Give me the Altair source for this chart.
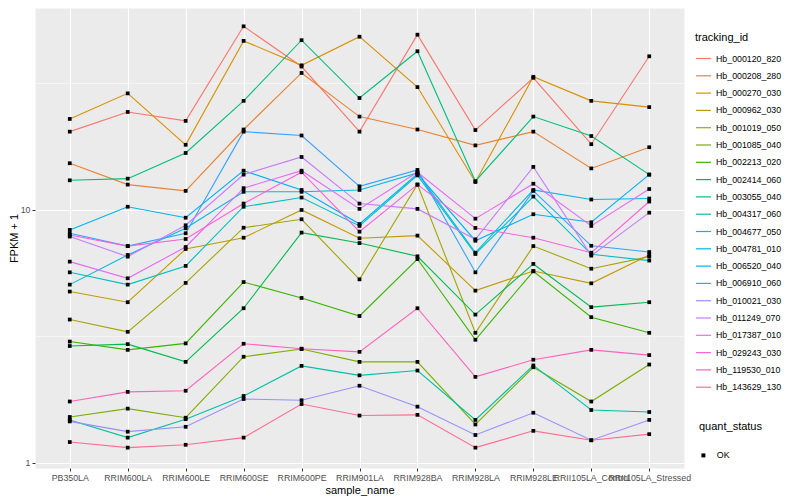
import altair as alt
import pandas as pd

samples = ["PB350LA", "RRIM600LA", "RRIM600LE", "RRIM600SE", "RRIM600PE", "RRIM901LA",
           "RRIM928BA", "RRIM928LA", "RRIM928LE", "RRII105LA_Control", "RRII105LA_Stressed"]

tracking_ids = ["Hb_000120_820", "Hb_000208_280", "Hb_000270_030", "Hb_000962_030",
                "Hb_001019_050", "Hb_001085_040", "Hb_002213_020", "Hb_002414_060",
                "Hb_003055_040", "Hb_004317_060", "Hb_004677_050", "Hb_004781_010",
                "Hb_006520_040", "Hb_006910_060", "Hb_010021_030", "Hb_011249_070",
                "Hb_017387_010", "Hb_029243_030", "Hb_119530_010", "Hb_143629_130"]

colors = ["#F8766D", "#EA8331", "#D89000", "#C09B00", "#A3A500", "#7CAE00", "#39B600",
          "#00BB4E", "#00BF7D", "#00C1A3", "#00BFC4", "#00BAE0", "#00B0F6", "#35A2FF",
          "#9590FF", "#C77CFF", "#E76BF3", "#FA62DB", "#FF62BC", "#FF6C91"]

# FPKM + 1 per sample (order of `samples`)
Hb_000120_820 = [20.4, 24.4, 22.5, 53.2, 36.9, 20.4, 49.3, 20.7, 33.3, 18.2, 40.5]
Hb_000208_280 = [15.3, 12.6, 11.9, 20.8, 34.8, 23.4, 20.8, 18.0, 20.4, 14.6, 17.7]
Hb_000270_030 = [22.9, 28.9, 18.1, 46.6, 37.3, 48.4, 30.6, 12.9, 33.6, 27.0, 25.5]
Hb_000962_030 = [4.76, 4.32, 7.01, 7.77, 10.0, 7.73, 7.92, 4.80, 5.74, 5.13, 6.64]
Hb_001019_050 = [3.69, 3.30, 5.15, 8.51, 9.19, 5.32, 12.6, 3.27, 7.20, 5.86, 6.54]
Hb_001085_040 = [1.52, 1.64, 1.51, 2.63, 2.82, 2.51, 2.51, 1.42, 2.39, 1.75, 2.45]
Hb_002213_020 = [3.02, 2.80, 2.97, 5.19, 4.49, 3.81, 6.40, 3.07, 5.72, 3.77, 3.27]
Hb_002414_060 = [2.90, 2.95, 2.51, 4.09, 8.14, 7.40, 6.56, 3.86, 6.12, 4.13, 4.32]
Hb_003055_040 = [13.1, 13.3, 16.8, 27.0, 46.9, 27.7, 42.4, 13.0, 23.4, 19.6, 13.8]
Hb_004317_060 = [1.48, 1.26, 1.49, 1.84, 2.42, 2.22, 2.32, 1.48, 2.43, 1.62, 1.59]
Hb_004677_050 = [5.67, 5.07, 6.01, 10.3, 11.2, 8.65, 13.7, 6.70, 11.3, 6.68, 6.31]
Hb_004781_010 = [5.07, 6.64, 8.47, 11.8, 11.8, 12.0, 14.0, 6.78, 12.0, 11.0, 11.1]
Hb_006520_040 = [8.34, 10.3, 9.32, 14.3, 12.0, 8.80, 13.9, 7.56, 9.62, 8.94, 13.8]
Hb_006910_060 = [8.09, 7.20, 8.09, 20.4, 19.7, 12.4, 14.4, 5.67, 11.9, 7.22, 6.82]
Hb_010021_030 = [1.46, 1.33, 1.39, 1.79, 1.77, 2.02, 1.67, 1.29, 1.58, 1.23, 1.48]
Hb_011249_070 = [7.85, 6.54, 8.70, 13.8, 16.2, 10.6, 10.1, 7.66, 14.8, 6.60, 9.76]
Hb_017387_010 = [6.25, 5.37, 7.14, 12.2, 14.3, 10.1, 14.1, 9.24, 12.7, 8.65, 12.1]
Hb_029243_030 = [7.97, 7.20, 7.68, 10.6, 14.1, 8.21, 12.6, 8.49, 7.77, 6.78, 10.8]
Hb_119530_010 = [1.75, 1.91, 1.93, 2.96, 2.83, 2.75, 4.09, 2.19, 2.56, 2.80, 2.67]
Hb_143629_130 = [1.21, 1.15, 1.18, 1.26, 1.71, 1.54, 1.55, 1.15, 1.34, 1.23, 1.30]

series = [Hb_000120_820, Hb_000208_280, Hb_000270_030, Hb_000962_030, Hb_001019_050,
          Hb_001085_040, Hb_002213_020, Hb_002414_060, Hb_003055_040, Hb_004317_060,
          Hb_004677_050, Hb_004781_010, Hb_006520_040, Hb_006910_060, Hb_010021_030,
          Hb_011249_070, Hb_017387_010, Hb_029243_030, Hb_119530_010, Hb_143629_130]

quant_status = "OK"

rows = []
for tid, vals in zip(tracking_ids, series):
    for s, v in zip(samples, vals):
        rows.append({"tracking_id": tid, "sample_name": s, "fpkm1": v,
                     "quant_status": quant_status})
df = pd.DataFrame(rows)

FONT = "Liberation Sans"
major = "datum.value == 1 || datum.value == 10"

x_enc = alt.X("sample_name:N", sort=samples,
              scale=alt.Scale(type="point", padding=0.6),
              axis=alt.Axis(title="sample_name", labelAngle=0, labelOverlap=False,
                            labelFlush=False, labelBound=False, domain=False,
                            grid=True, gridColor="white", gridWidth=1.1,
                            tickColor="#333333", tickSize=3, tickWidth=1,
                            labelPadding=2, titlePadding=3))

y_enc = alt.Y("fpkm1:Q",
              scale=alt.Scale(type="log", domain=[0.9555, 62.85], nice=False),
              axis=alt.Axis(title="FPKM + 1", values=[1, 3.1623, 10, 31.623],
                            labelExpr="datum.value == 1 ? '1' : (datum.value == 10 ? '10' : '')",
                            domain=False, grid=True, gridColor="white",
                            gridWidth={"condition": {"test": major, "value": 1.1}, "value": 0.5},
                            tickOpacity={"condition": {"test": major, "value": 1}, "value": 0},
                            tickColor="#333333", tickSize=3, tickWidth=1,
                            labelPadding=2, titlePadding=1))

lines = alt.Chart(df).mark_line(strokeWidth=1.1).encode(
    x=x_enc, y=y_enc,
    color=alt.Color("tracking_id:N",
                    scale=alt.Scale(domain=tracking_ids, range=colors),
                    legend=alt.Legend(title="tracking_id", orient="none",
                                      legendX=660, legendY=24,
                                      symbolType="stroke", symbolSize=225,
                                      symbolStrokeWidth=1.2, rowPadding=3.3,
                                      labelOffset=4, titlePadding=7)),
)

points = alt.Chart(df).mark_point(filled=True, size=14, opacity=1).encode(
    x=x_enc, y=y_enc,
    shape=alt.Shape("quant_status:N",
                    scale=alt.Scale(domain=["OK"], range=["square"]),
                    legend=alt.Legend(title="quant_status", orient="none",
                                      legendX=664, legendY=413,
                                      symbolFillColor="black", symbolStrokeColor="black",
                                      symbolSize=16, labelOffset=9, titlePadding=19)),
    color=alt.value("black"),
)

chart = alt.layer(lines, points).properties(
    width=649, height=460, padding=0, background="white"
).configure_view(
    fill="#EBEBEB", stroke="transparent"
).configure_axis(
    labelFont=FONT, titleFont=FONT, labelFontSize=8.8, titleFontSize=11,
    labelColor="#4D4D4D", titleColor="black", titleFontWeight="normal"
).configure_legend(
    labelFont=FONT, titleFont=FONT, labelFontSize=8.8, titleFontSize=11,
    labelColor="black", titleColor="black", titleFontWeight="normal"
)

chart.save("out.html", embed_options={"renderer": "svg", "actions": False})
